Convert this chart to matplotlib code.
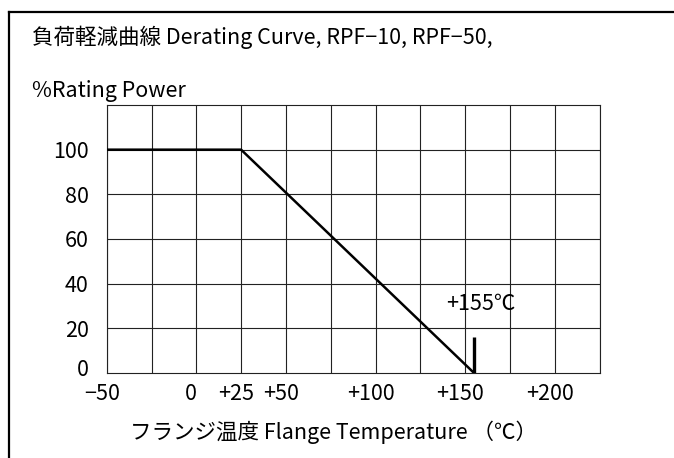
import matplotlib
matplotlib.use("Agg")
import matplotlib.pyplot as plt
from matplotlib.lines import Line2D
import matplotlib.transforms as mtransforms

# ---- data ----
temps = [-50, 25, 155]
power = [100, 100, 0]
max_temp = 155
marker_top = 16
xticks = [-50, 0, 25, 50, 100, 150, 200]
xtick_labels = ["−50", "0", "+25", "+50", "+100", "+150", "+200"]
yticks = [0, 20, 40, 60, 80, 100]
ytick_labels = ["0", "20", "40", "60", "80", "100"]
grid_x = list(range(-50, 226, 25))
grid_y = [20, 40, 60, 80, 100]

title = "負荷軽減曲線 Derating Curve, RPF−10, RPF−50,"
ylabel = "%Rating Power"
xlabel = "フランジ温度 Flange Temperature （℃）"
limit_label = "+155℃"

plt.rcParams["font.family"] = ["Noto Sans CJK JP", "DejaVu Sans"]
FS = 15.5

W, H = 674, 458
fig = plt.figure(figsize=(W / 100, H / 100), dpi=100)
fig.patch.set_facecolor("white")

L, R, T, B = 106.7, 599.5, 105, 373
ax = fig.add_axes([L / W, 1 - B / H, (R - L) / W, (B - T) / H])
ax.set_xlim(-50, 225)
ax.set_ylim(0, 120)

gc = "#222222"
for gx in grid_x:
    ax.axvline(gx, color=gc, lw=0.8, zorder=1)
for gy in grid_y:
    ax.axhline(gy, color=gc, lw=0.8, zorder=1)
for s in ax.spines.values():
    s.set_color(gc)
    s.set_linewidth(0.8)

ax.plot(temps, power, color="black", lw=1.8, zorder=3, solid_capstyle="butt")
ax.plot([max_temp, max_temp], [0, marker_top], color="black", lw=2.4, zorder=3,
        solid_capstyle="butt")
ax.text(159, 31, limit_label, ha="center", va="center", fontsize=FS, zorder=4)

ax.set_xticks(xticks)
ax.set_xticklabels(xtick_labels, fontsize=FS)
ax.set_yticks(yticks)
ax.set_yticklabels(ytick_labels, fontsize=FS)
ax.tick_params(axis="both", length=0)
ax.tick_params(axis="x", pad=7)
ax.tick_params(axis="y", pad=13)
offx = mtransforms.ScaledTranslation(-5 / 100, 0, fig.dpi_scale_trans)
for lab in ax.get_xticklabels():
    lab.set_transform(lab.get_transform() + offx)
offy = mtransforms.ScaledTranslation(0, 6 / 100, fig.dpi_scale_trans)
ylabs = ax.get_yticklabels()
ylabs[0].set_transform(ylabs[0].get_transform() + offy)

fig.text(32 / W, 1 - 37 / H, title, ha="left", va="center", fontsize=FS)
fig.text(32 / W, 1 - 91 / H, ylabel, ha="left", va="center", fontsize=FS)
fig.text(333 / W, 1 - 432 / H, xlabel, ha="center", va="center", fontsize=FS)

# outer frame (cut at right and bottom)
fig.add_artist(Line2D([9 / W, 1.0], [1 - 12 / H, 1 - 12 / H], color="black", lw=1.6,
                      transform=fig.transFigure))
fig.add_artist(Line2D([9 / W, 9 / W], [1 - 12 / H, 0.0], color="black", lw=1.6,
                      transform=fig.transFigure))

fig.savefig("out.png", dpi=100)
